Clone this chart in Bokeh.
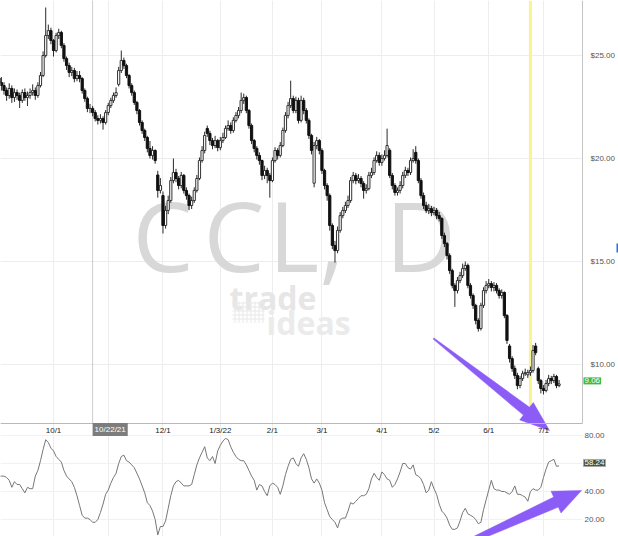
from bokeh.plotting import figure
from bokeh.models import (Range1d, FixedTicker, Label, ColumnDataSource,
                          LinearAxis, Grid)
from bokeh.embed import file_html
from bokeh.resources import INLINE
from bokeh.core.properties import value

# ---------------- data (CCL daily, 9/1/21 .. 7/12/22) ----------------
opens = [23.90, 23.69, 23.54, 23.30, 23.06, 23.40, 22.96, 23.20, 23.06, 22.82,
         23.20, 22.96, 23.06, 23.20, 23.30, 23.06, 23.54, 24.03, 25.00, 25.97,
         26.21, 25.73, 25.24, 25.97, 26.12, 25.49, 24.85, 24.51, 24.18, 24.27,
         23.88, 24.03, 23.88, 23.30, 22.91, 22.43, 22.43, 22.23, 21.94, 21.85,
         21.94, 21.75, 22.23, 22.57, 22.82, 23.06, 23.60, 24.27, 24.76, 24.51,
         24.03, 23.54, 23.20, 22.72, 22.33, 21.75, 21.36, 21.02, 20.49, 20.15,
         20.39, 19.20, 18.45, 18.20, 16.75, 17.48, 17.96, 18.93, 19.32, 19.03,
         18.69, 19.18, 18.45, 18.20, 17.72, 17.96, 18.45, 19.03, 19.90, 20.39,
         21.46, 21.22, 20.87, 20.63, 20.87, 20.53, 20.87, 21.02, 21.46, 21.60,
         21.36, 21.85, 22.09, 22.33, 22.82, 22.96, 22.33, 21.60, 20.87, 20.49,
         20.15, 19.90, 19.18, 19.42, 19.18, 18.93, 19.90, 20.39, 20.15, 20.63,
         21.36, 22.09, 22.57, 22.91, 22.33, 22.82, 21.85, 22.82, 22.33, 21.85,
         21.12, 18.80, 20.63, 20.87, 20.39, 19.42, 18.69, 18.20, 16.75, 15.78,
         15.53, 16.51, 17.23, 17.48, 17.72, 17.96, 18.93, 19.18, 18.93, 19.03,
         18.79, 18.45, 18.54, 19.18, 19.32, 19.90, 20.15, 19.81, 20.00, 20.15,
         20.40, 19.18, 18.69, 18.35, 18.45, 18.69, 19.18, 19.42, 19.32, 19.90,
         20.30, 19.90, 18.93, 18.20, 17.72, 17.48, 17.57, 17.38, 17.48, 17.23,
         17.09, 16.26, 15.87, 15.29, 14.56, 13.84, 13.59, 14.08, 14.32, 14.66,
         14.81, 13.84, 13.35, 12.87, 12.14, 11.75, 12.87, 13.59, 13.84, 13.93,
         13.74, 13.84, 13.59, 13.35, 13.50, 12.38, 10.90, 10.29, 9.81, 9.47,
         8.98, 9.32, 9.56, 9.50, 9.61, 9.71, 10.90, 9.80, 9.22, 8.84,
         8.74, 9.08, 9.32, 9.22, 9.42, 8.98]

highs = [24.15, 23.95, 23.70, 23.45, 23.65, 23.55, 23.40, 23.35, 23.20, 23.35,
         23.40, 23.25, 23.40, 23.60, 23.45, 23.70, 24.20, 25.20, 27.33, 26.50,
         26.35, 25.80, 26.10, 26.30, 26.20, 25.60, 24.95, 24.65, 24.45, 24.40,
         24.25, 24.25, 23.95, 23.40, 23.00, 22.65, 22.55, 22.35, 22.10, 22.15,
         22.05, 22.35, 22.70, 22.95, 23.20, 23.45, 24.45, 25.24, 24.90, 24.60,
         24.10, 23.65, 23.30, 22.80, 22.40, 21.85, 21.45, 21.10, 20.85, 20.60,
         20.45, 19.40, 19.05, 18.40, 17.70, 18.20, 19.10, 20.00, 19.50, 19.15,
         19.35, 19.25, 18.60, 18.30, 18.15, 18.60, 19.20, 20.05, 20.60, 21.30,
         21.60, 21.35, 21.00, 21.10, 20.95, 21.05, 21.25, 21.60, 21.85, 21.75,
         22.00, 22.25, 22.50, 23.20, 23.15, 23.05, 22.40, 21.70, 20.95, 20.60,
         20.30, 19.95, 19.65, 19.55, 19.30, 20.05, 20.55, 20.50, 20.80, 21.50,
         22.25, 22.75, 23.78, 23.05, 23.00, 22.95, 23.05, 22.95, 22.45, 21.95,
         21.20, 20.80, 21.05, 20.95, 20.50, 19.50, 18.80, 18.30, 16.85, 16.00,
         16.70, 17.40, 17.65, 17.90, 18.20, 19.10, 19.35, 19.30, 19.25, 19.15,
         18.90, 18.75, 19.35, 19.55, 20.05, 20.35, 20.30, 20.20, 20.40, 21.45,
         20.50, 19.30, 18.80, 18.60, 18.90, 19.35, 19.60, 19.55, 20.05, 20.45,
         20.60, 20.00, 19.05, 18.35, 17.90, 17.80, 17.70, 17.65, 17.60, 17.40,
         17.15, 16.40, 15.95, 15.40, 14.65, 13.95, 14.25, 14.50, 14.90, 15.00,
         14.90, 13.95, 13.45, 12.95, 12.25, 13.00, 13.75, 14.05, 14.15, 14.05,
         14.00, 13.95, 13.70, 13.65, 13.55, 12.45, 11.00, 10.40, 9.95, 9.60,
         9.45, 9.70, 9.80, 9.75, 9.90, 10.95, 11.05, 9.90, 9.30, 9.00,
         9.25, 9.50, 9.45, 9.55, 9.50, 9.25]

lows = [23.45, 23.30, 23.10, 22.80, 22.90, 22.70, 22.75, 22.85, 22.45, 22.70,
        22.80, 22.55, 22.90, 23.05, 22.85, 22.95, 23.45, 23.95, 24.90, 25.80,
        25.55, 24.95, 25.15, 25.80, 25.35, 24.70, 24.30, 23.95, 24.00, 23.70,
        23.75, 23.70, 23.15, 22.75, 22.25, 22.20, 22.05, 21.80, 21.65, 21.70,
        21.40, 21.65, 22.10, 22.45, 22.70, 22.95, 23.50, 24.15, 24.35, 23.90,
        23.40, 23.05, 22.60, 22.15, 21.60, 21.20, 20.85, 20.30, 20.00, 19.95,
        19.75, 18.10, 18.30, 16.36, 16.60, 17.30, 17.85, 18.80, 18.85, 18.50,
        18.55, 18.30, 18.00, 17.50, 17.55, 17.85, 18.35, 18.95, 19.80, 20.25,
        21.05, 20.65, 20.45, 20.50, 20.35, 20.40, 20.75, 20.95, 21.35, 21.20,
        21.25, 21.75, 21.95, 22.20, 22.65, 22.20, 21.45, 20.70, 20.30, 19.95,
        19.70, 18.95, 19.00, 18.80, 18.10, 18.85, 19.80, 19.95, 20.05, 20.55,
        21.25, 21.95, 22.45, 22.20, 22.20, 21.70, 21.75, 22.15, 21.70, 20.95,
        20.20, 18.60, 20.45, 20.20, 19.25, 18.50, 17.95, 16.50, 15.60, 14.95,
        15.40, 16.40, 17.10, 17.35, 17.60, 17.85, 18.80, 18.75, 18.80, 18.60,
        18.05, 18.30, 18.45, 19.05, 19.20, 19.80, 19.65, 19.65, 19.90, 20.05,
        19.05, 18.50, 18.20, 18.20, 18.30, 18.55, 19.05, 19.15, 19.20, 19.80,
        19.75, 18.80, 18.05, 17.55, 17.35, 17.30, 17.20, 17.25, 17.05, 16.95,
        16.10, 15.70, 15.10, 14.40, 13.70, 12.80, 13.45, 13.95, 14.20, 14.55,
        13.70, 13.20, 12.70, 11.95, 11.60, 11.65, 12.75, 13.45, 13.70, 13.55,
        13.55, 13.45, 13.20, 13.20, 12.25, 11.00, 10.10, 9.65, 9.30, 8.80,
        8.85, 9.20, 9.45, 9.35, 9.45, 9.60, 10.45, 9.05, 8.60, 8.55,
        8.65, 8.95, 9.05, 9.10, 8.85, 8.90]

closes = [23.69, 23.54, 23.30, 23.06, 23.40, 22.96, 23.20, 23.06, 22.82, 23.20,
          22.96, 23.06, 23.20, 23.30, 23.06, 23.54, 24.03, 25.00, 25.97, 26.21,
          25.73, 25.24, 25.97, 26.12, 25.49, 24.85, 24.51, 24.18, 24.27, 23.88,
          24.03, 23.88, 23.30, 22.91, 22.43, 22.43, 22.23, 21.94, 21.85, 21.94,
          21.75, 22.23, 22.57, 22.82, 23.06, 23.20, 24.27, 24.76, 24.51, 24.03,
          23.54, 23.20, 22.72, 22.33, 21.75, 21.36, 21.02, 20.49, 20.15, 20.39,
          19.90, 18.45, 18.69, 16.75, 17.48, 17.96, 18.93, 19.32, 19.03, 18.69,
          19.18, 18.45, 18.20, 17.72, 17.96, 18.45, 19.03, 19.90, 20.39, 21.12,
          21.22, 20.87, 20.63, 20.87, 20.53, 20.87, 21.02, 21.46, 21.60, 21.36,
          21.85, 22.09, 22.33, 22.82, 22.96, 22.33, 21.60, 20.87, 20.49, 20.15,
          19.90, 19.18, 19.42, 19.18, 18.93, 19.90, 20.39, 20.15, 20.63, 21.36,
          22.09, 22.57, 22.91, 22.33, 22.82, 21.85, 22.82, 22.33, 21.85, 21.12,
          20.39, 20.63, 20.87, 20.39, 19.42, 18.69, 18.20, 16.75, 15.78, 15.53,
          16.51, 17.23, 17.48, 17.72, 17.96, 18.93, 19.18, 18.93, 19.03, 18.79,
          18.45, 18.54, 19.18, 19.32, 19.90, 20.15, 19.81, 20.00, 20.15, 20.63,
          19.18, 18.69, 18.35, 18.45, 18.69, 19.18, 19.42, 19.32, 19.90, 20.00,
          19.90, 18.93, 18.20, 17.72, 17.48, 17.57, 17.38, 17.48, 17.23, 17.09,
          16.26, 15.87, 15.29, 14.56, 13.84, 13.59, 14.08, 14.32, 14.66, 14.81,
          13.84, 13.35, 12.87, 12.14, 11.75, 12.87, 13.59, 13.84, 13.93, 13.74,
          13.84, 13.59, 13.35, 13.50, 12.38, 11.17, 10.29, 9.81, 9.47, 8.98,
          9.32, 9.56, 9.61, 9.61, 9.71, 10.68, 10.58, 9.22, 8.84, 8.74,
          9.08, 9.32, 9.22, 9.42, 8.98, 9.06]

oscillator = [51, 51, 51, 50, 48, 43, 47, 45, 45, 42,
              39, 43, 42, 42, 51, 55, 62, 70, 77, 75,
              71, 69, 65, 63, 61, 55, 51, 49, 47, 43,
              37, 30, 23, 21, 21, 20, 18, 18, 20, 25,
              31, 38, 41, 46, 50, 53, 60, 65, 66, 62,
              61, 59, 57, 53, 49, 44, 39, 32, 30, 26,
              20, 9, 15, 15, 19, 28, 37, 44, 47, 48,
              46, 44, 44, 44, 45, 52, 59, 64, 68, 72,
              64, 62, 65, 60, 69, 73, 76, 78, 77, 72,
              68, 65, 63, 62, 62, 59, 55, 51, 48, 41,
              45, 44, 40, 37, 44, 46, 45, 43, 38, 44,
              52, 58, 63, 64, 60, 58, 64, 67, 63, 57,
              49, 46, 49, 46, 41, 32, 27, 22, 20, 18,
              14, 20, 21, 21, 26, 32, 31, 33, 35, 37,
              37, 38, 42, 49, 53, 50, 48, 54, 52, 49,
              48, 43, 45, 49, 54, 60, 60, 57, 56, 59,
              52, 51, 49, 45, 39, 41, 47, 42, 38, 31,
              26, 24, 21, 16, 13, 13, 14, 19, 25, 28,
              24, 23, 22, 20, 17, 18, 27, 34, 41, 48,
              42, 41, 41, 40, 40, 39, 38, 40, 44, 38,
              38, 37, 36, 33, 40, 42, 41, 41, 43, 50,
              56, 61, 62, 63, 58, 58.24]

tick_index = [21, 42, 63, 85, 105, 124, 147, 167, 188, 209]
tick_labels = ["10/1", "", "12/1", "1/3/22", "2/1", "3/1", "4/1", "5/2", "6/1", "7/1"]
price_ticks = [10, 15, 20, 25]
price_labels = ["$10.00", "$15.00", "$20.00", "$25.00"]
osc_ticks = [20, 40, 80]
osc_labels = ["20.00", "40.00", "80.00"]
osc_grid = [20, 40, 60, 80]
cursor_index = 36
cursor_label = "10/22/21"
marker_index = 204
last_price = 9.06
last_osc = 58.24
symbol = ["C", "C", "L,", "D"]

# ------------- helpers: reference-pixel -> data space (annotations only) -------------
def fx(px):
    return (px + 1.7) / 2.606

def fy(py):
    return 27.67 - 0.04854 * py

def fo(py):
    return 80 - (py - 435) / 1.4

FONT = "Liberation Sans"
N = len(closes)
idx = list(range(N))
up = [c >= o for o, c in zip(opens, closes)]
RIGHT_EDGE = fx(582)

p = figure(width=618, height=536, x_range=Range1d(fx(0), fx(618)),
           y_range=Range1d(fy(536), fy(0)),
           x_axis_location=None, y_axis_location=None,
           output_backend="svg", toolbar_location=None,
           min_border=0, outline_line_color=None,
           background_fill_color="white", border_fill_color="white")
p.extra_y_ranges = {"osc": Range1d(fo(536), fo(0))}

# grids
p.xgrid.ticker = FixedTicker(ticks=tick_index)
p.xgrid.grid_line_color = "#ededed"
p.ygrid.ticker = FixedTicker(ticks=price_ticks)
p.ygrid.grid_line_color = "#ededed"
p.ygrid.cross_bounds = (fx(0), RIGHT_EDGE)
og = Grid(dimension=1, ticker=FixedTicker(ticks=osc_grid), y_range_name="osc",
          grid_line_color="#f1f1f1", cross_bounds=(fx(0), RIGHT_EDGE))
p.add_layout(og)

# axes (pinned inside the canvas)
def style(ax, color):
    ax.major_tick_line_color = None
    ax.minor_tick_line_color = None
    ax.major_tick_out = 0
    ax.major_tick_in = 0
    ax.major_label_text_font = FONT
    ax.major_label_text_font_size = "8px"
    ax.major_label_text_color = color

price_axis = LinearAxis(ticker=FixedTicker(ticks=price_ticks),
                        fixed_location=RIGHT_EDGE, bounds=(fy(423), fy(0)),
                        major_label_overrides={t: l for t, l in zip(price_ticks, price_labels)},
                        axis_line_color="#c4c4c4", major_label_standoff=8)
style(price_axis, "#555555")
p.add_layout(price_axis, "right")

osc_axis = LinearAxis(y_range_name="osc", ticker=FixedTicker(ticks=osc_ticks),
                      fixed_location=RIGHT_EDGE,
                      major_label_overrides={t: l for t, l in zip(osc_ticks, osc_labels)},
                      axis_line_color=None, major_label_standoff=2)
style(osc_axis, "#555555")
p.add_layout(osc_axis, "right")

date_axis = LinearAxis(ticker=FixedTicker(ticks=tick_index),
                       fixed_location=fy(423), bounds=(fx(0), RIGHT_EDGE),
                       major_label_overrides={t: l for t, l in zip(tick_index, tick_labels)},
                       axis_line_color="#b9b9b9", major_label_standoff=2)
style(date_axis, "#222222")
p.add_layout(date_axis, "below")

# watermark
p.text(x=[fx(132), fx(203), fx(268), fx(385)], y=[fy(233)] * 4, text=symbol,
       text_font=value("Open Sans"), text_font_size="97px",
       text_color="#d8d8d8", text_align="left", text_baseline="alphabetic")
p.text(x=[fx(229)], y=[fy(297)], text=["trade"], text_font=value("Open Sans"),
       text_font_style="bold", text_font_size="32px", text_color="#e6e6e6",
       text_align="left", text_baseline="alphabetic")
p.text(x=[fx(266)], y=[fy(322)], text=["ideas"], text_font=value("Open Sans"),
       text_font_style="bold", text_font_size="32px", text_color="#ebebeb",
       text_align="left", text_baseline="alphabetic")
p.quad(left=[fx(232)], right=[fx(264)], bottom=[fy(322)], top=[fy(301)],
       fill_color=None, line_color=None, hatch_pattern="+", hatch_scale=4,
       hatch_color="#e8e8e8", hatch_weight=1)

# marker lines (price panel only)
p.segment(x0=[marker_index], y0=[fy(423)], x1=[marker_index], y1=[fy(0)],
          line_color="#fbf38c", line_width=3)
p.segment(x0=[cursor_index], y0=[fy(423)], x1=[cursor_index], y1=[fy(0)],
          line_color="#9a9a9a", line_dash="1 1", line_width=1)

# candles
p.segment(x0=idx, y0=lows, x1=idx, y1=highs, line_color="#2a2a2a", line_width=1)
src_up = ColumnDataSource(dict(
    x=[i for i in idx if up[i]],
    top=[closes[i] for i in idx if up[i]],
    bottom=[opens[i] for i in idx if up[i]]))
src_dn = ColumnDataSource(dict(
    x=[i for i in idx if not up[i]],
    top=[opens[i] for i in idx if not up[i]],
    bottom=[closes[i] for i in idx if not up[i]]))
p.vbar(x="x", top="top", bottom="bottom", width=0.85, source=src_up,
       fill_color="white", line_color="#333333", line_width=1)
p.vbar(x="x", top="top", bottom="bottom", width=0.85, source=src_dn,
       fill_color="#111111", line_color="#111111", line_width=1)

# oscillator
p.line(idx, oscillator, y_range_name="osc", line_color="#777777", line_width=1)

# purple arrows
a1 = [(433.4, 337.4), (529.1, 406.8), (532.8, 402.0), (549, 430),
      (519.2, 419.4), (522.9, 414.6), (432.6, 338.6)]
p.patch([fx(a) for a, b in a1], [fy(b) for a, b in a1],
        fill_color="#8b5cf6", line_color="#8b5cf6", line_width=0.5)
a2 = [(467.0, 539.0), (553.2, 496.6), (550.5, 490.7), (581, 490),
      (560.5, 512.5), (557.8, 506.6), (469.0, 543.5)]
p.patch([fx(a) for a, b in a2], [fo(b) for a, b in a2], y_range_name="osc",
        fill_color="#8b5cf6", line_color="#8b5cf6", line_width=0.5)

# small blue edge mark
p.quad(left=[fx(616)], right=[fx(618)], bottom=[fy(252)], top=[fy(243)],
       fill_color="#2f6fd6", line_color=None)

# value tags
p.add_layout(Label(x=fx(583), y=last_price, y_offset=3, text=f"{last_price:.2f}",
                   text_font=FONT, text_font_size="8px", text_color="white",
                   text_align="left", text_baseline="middle",
                   background_fill_color="#3dba44", padding=1))
p.add_layout(Label(x=fx(583), y=last_osc, y_offset=3, y_range_name="osc",
                   text=f"{last_osc:.2f}",
                   text_font=FONT, text_font_size="8px", text_color="white",
                   text_align="left", text_baseline="middle",
                   background_fill_color="#4a5640", border_line_color="#a8a8a8",
                   padding=1))
p.add_layout(Label(x=cursor_index, y=fy(429), text=cursor_label,
                   text_font=FONT, text_font_size="8px", text_color="white",
                   text_align="left", text_baseline="middle",
                   background_fill_color="#7d7d7d", padding=2))

open("out.html", "w").write(file_html(p, INLINE))
